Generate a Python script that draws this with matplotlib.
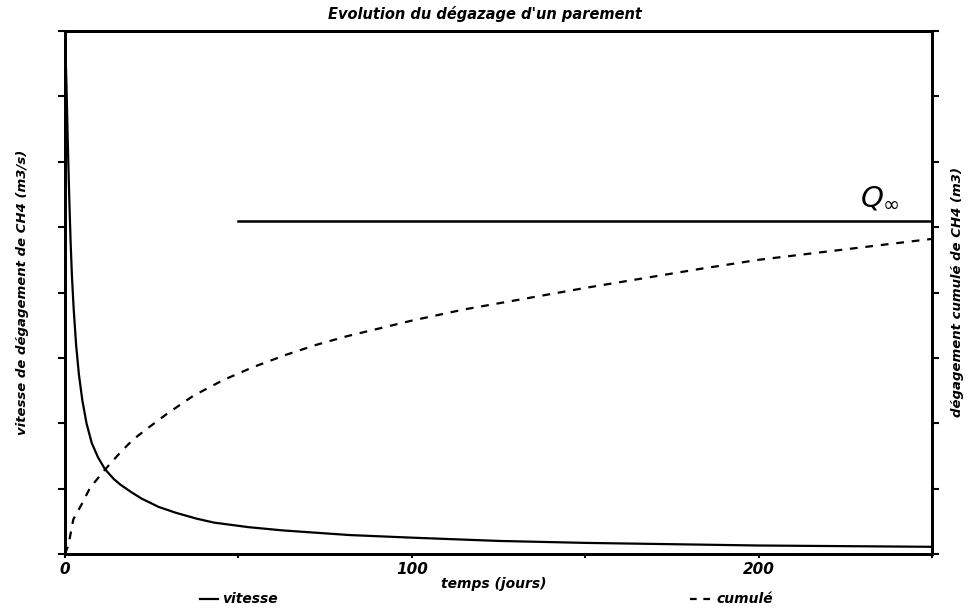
import matplotlib
matplotlib.use("Agg")
import matplotlib.pyplot as plt
from matplotlib.ticker import MultipleLocator, NullFormatter

# ---- data ----
t_vitesse = [0, 0.2, 0.5, 0.8, 1.2, 1.6, 2.0, 2.5, 3.2, 4.0, 5.0, 6.2, 7.7, 9.5, 11.5,
             14, 16, 19, 22, 27, 32, 38, 43, 53, 63, 82, 100, 125, 150, 175, 200, 225, 250]
vitesse = [8.0, 7.6, 7.0, 6.3, 5.5, 4.8, 4.25, 3.75, 3.2, 2.75, 2.35, 2.0, 1.7, 1.48, 1.3,
           1.15, 1.06, 0.95, 0.85, 0.72, 0.63, 0.54, 0.48, 0.41, 0.36, 0.29, 0.25, 0.2,
           0.17, 0.15, 0.13, 0.12, 0.11]

t_cumul = [0, 1, 2.4, 4.8, 7.2, 11.5, 15.9, 19.6, 24.5, 29.3, 37, 45.6, 54.3, 63.9,
           72.5, 81.2, 100, 115, 150, 183, 200, 225, 250]
cumul = [0.0, 0.14, 0.53, 0.76, 1.01, 1.29, 1.55, 1.75, 1.95, 2.14, 2.42, 2.66, 2.86,
         3.05, 3.2, 3.33, 3.57, 3.74, 4.07, 4.36, 4.5, 4.66, 4.82]

q_inf = 5.1
q_inf_start = 50

x_major = [0, 100, 200]
x_labels = ["0", "100", "200"]

title = "Evolution du dégazage d'un parement"
xlabel = "temps (jours)"
ylabel_left = "vitesse de dégagement de CH4 (m3/s)"
ylabel_right = "dégagement cumulé de CH4 (m3)"

W, H = 969, 610
fig = plt.figure(figsize=(W / 100, H / 100), dpi=100)
fig.patch.set_facecolor("white")

L, R, T, B = 65, 932, 31, 554
ax = fig.add_axes([L / W, 1 - B / H, (R - L) / W, (B - T) / H])
ax2 = ax.twinx()

fnt = dict(family="DejaVu Sans", style="italic", weight="bold")

ax.plot(t_vitesse, vitesse, color="black", lw=1.6, solid_joinstyle="round")
ax2.plot(t_cumul, cumul, color="black", lw=1.6, linestyle=(0, (3.5, 3.5)))
ax2.plot([q_inf_start, 250], [q_inf, q_inf], color="black", lw=1.8)

ax.set_xlim(0, 250)
ax.set_ylim(0, 8)
ax2.set_ylim(0, 8)

for a in (ax, ax2):
    for s in a.spines.values():
        s.set_linewidth(2.0)

ax.xaxis.set_major_locator(plt.FixedLocator(x_major))
ax.set_xticklabels(x_labels, fontsize=11, **fnt)
ax.xaxis.set_minor_locator(MultipleLocator(50))
ax.tick_params(axis="x", which="both", direction="out", length=3, width=1.5, pad=3)
ax.yaxis.set_major_locator(MultipleLocator(1))
ax.yaxis.set_major_formatter(NullFormatter())
ax.tick_params(axis="y", direction="out", length=5, width=1.5)
ax2.yaxis.set_major_locator(MultipleLocator(1))
ax2.yaxis.set_major_formatter(NullFormatter())
ax2.tick_params(axis="y", direction="out", length=5, width=1.5)

fig.text(485 / W, 1 - 14 / H, title, ha="center", va="center", fontsize=10.5, **fnt)
fig.text(494 / W, 1 - 584 / H, xlabel, ha="center", va="center", fontsize=10, **fnt)
fig.text(23 / W, 1 - 292 / H, ylabel_left, ha="center", va="center", rotation=90,
         fontsize=9.5, **fnt)
fig.text(958 / W, 1 - 292 / H, ylabel_right, ha="center", va="center", rotation=90,
         fontsize=9.5, **fnt)

# legend entries
fig.lines.append(plt.Line2D([200 / W, 218 / W], [1 - 599 / H] * 2, color="black", lw=1.6,
                            transform=fig.transFigure))
fig.text(222 / W, 1 - 599 / H, "vitesse", ha="left", va="center", fontsize=10, **fnt)
fig.lines.append(plt.Line2D([690 / W, 712 / W], [1 - 599 / H] * 2, color="black", lw=1.6,
                            linestyle=(0, (3, 3)), transform=fig.transFigure))
fig.text(716 / W, 1 - 599 / H, "cumulé", ha="left", va="center", fontsize=10, **fnt)

ax2.text(235, q_inf + 0.12, r"$Q_{\infty}$", ha="center", va="bottom", fontsize=21)

fig.savefig("out.png", dpi=100, facecolor="white")
